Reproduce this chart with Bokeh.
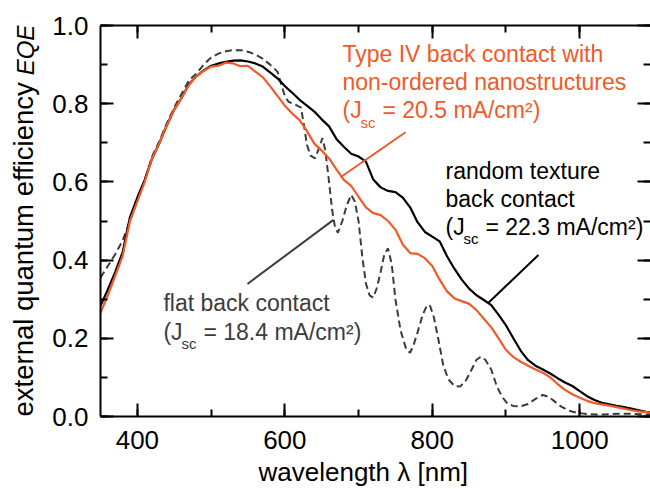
from bokeh.plotting import figure
from bokeh.layouts import row
from bokeh.models import (Range1d, LinearAxis, SingleIntervalTicker, Label, Title,
                          CustomJSTickFormatter, NumeralTickFormatter)
from bokeh.embed import file_html
from bokeh.resources import INLINE

# ---------------- data ----------------
wl_random = [350, 360, 370, 380, 390, 400, 410, 420, 430, 440, 450, 460, 470, 480, 490,
             500, 510, 520, 530, 540, 550, 560, 570, 580, 590, 600, 610, 620, 630, 640,
             650, 660, 670, 680, 690, 700, 710, 720, 730, 740, 750, 760, 770, 780, 790,
             800, 810, 820, 830, 840, 850, 860, 870, 880, 890, 900, 910, 920, 930, 940,
             950, 960, 970, 980, 990, 1000, 1010, 1020, 1030, 1040, 1050, 1060, 1070,
             1080, 1090, 1100]
eqe_random = [0.283, 0.325, 0.37, 0.42, 0.51, 0.56, 0.605, 0.66, 0.70, 0.745, 0.785, 0.815,
              0.85, 0.87, 0.885, 0.897, 0.903, 0.907, 0.91, 0.911, 0.908, 0.903, 0.895,
              0.88, 0.865, 0.845, 0.828, 0.81, 0.795, 0.78, 0.76, 0.742, 0.71, 0.69, 0.672,
              0.665, 0.652, 0.606, 0.586, 0.577, 0.574, 0.56, 0.535, 0.497, 0.472, 0.46,
              0.448, 0.41, 0.378, 0.35, 0.327, 0.31, 0.298, 0.285, 0.26, 0.233, 0.2, 0.168,
              0.144, 0.13, 0.12, 0.11, 0.098, 0.087, 0.078, 0.065, 0.052, 0.042, 0.035,
              0.031, 0.027, 0.024, 0.02, 0.016, 0.012, 0.009]

wl_type4 = wl_random
eqe_type4 = [0.265, 0.31, 0.36, 0.41, 0.50, 0.55, 0.60, 0.66, 0.70, 0.745, 0.785, 0.815,
             0.848, 0.87, 0.884, 0.895, 0.897, 0.905, 0.903, 0.896, 0.897, 0.882, 0.868,
             0.845, 0.82, 0.795, 0.775, 0.758, 0.73, 0.698, 0.68, 0.66, 0.632, 0.605, 0.59,
             0.562, 0.535, 0.52, 0.515, 0.50, 0.478, 0.44, 0.418, 0.416, 0.405, 0.385, 0.35,
             0.32, 0.302, 0.295, 0.288, 0.272, 0.25, 0.228, 0.2, 0.17, 0.152, 0.14, 0.13,
             0.12, 0.112, 0.10, 0.083, 0.068, 0.057, 0.048, 0.04, 0.034, 0.031, 0.028,
             0.024, 0.02, 0.016, 0.013, 0.011, 0.009]

wl_flat = [350, 360, 370, 380, 390, 400, 410, 420, 430, 440, 450, 460, 470, 480, 490, 500,
           510, 520, 530, 540, 550, 560, 570, 580, 590, 595, 600, 605, 615, 622, 626, 630,
           635, 641, 647, 651, 655, 660, 664, 668, 672, 678, 684, 690, 695, 700, 705, 710,
           715, 720, 725, 730, 735, 740, 745, 750, 757, 765, 770, 775, 780, 787, 793, 797,
           802, 808, 815, 822, 830, 838, 845, 852, 860, 866, 872, 880, 888, 895, 902, 910,
           920, 930, 940, 950, 958, 965, 975, 985, 995, 1010, 1030, 1050, 1070, 1090, 1100]
eqe_flat = [0.355, 0.385, 0.415, 0.45, 0.50, 0.555, 0.605, 0.665, 0.705, 0.75, 0.79, 0.825,
            0.86, 0.877, 0.90, 0.918, 0.928, 0.934, 0.937, 0.937, 0.933, 0.926, 0.915, 0.90,
            0.882, 0.85, 0.82, 0.805, 0.797, 0.79, 0.745, 0.695, 0.667, 0.66, 0.69, 0.712,
            0.68, 0.60, 0.53, 0.485, 0.47, 0.50, 0.54, 0.567, 0.55, 0.50, 0.41, 0.34, 0.31,
            0.304, 0.33, 0.37, 0.415, 0.43, 0.39, 0.30, 0.22, 0.17, 0.163, 0.185, 0.215,
            0.26, 0.285, 0.283, 0.255, 0.20, 0.13, 0.095, 0.078, 0.077, 0.09, 0.115, 0.145,
            0.153, 0.145, 0.12, 0.075, 0.05, 0.033, 0.027, 0.026, 0.032, 0.045, 0.055, 0.05,
            0.04, 0.025, 0.015, 0.01, 0.006, 0.005, 0.007, 0.007, 0.005, 0.005]

ORANGE = "#f15a29"
GRAY = "#3c3c3c"
FONT = "Liberation Sans"

LEFT_W = 48
TOTAL_W = 650
TOTAL_H = 489
FRAME_H = 392   # plot frame height (plots in a Bokeh row share frame top/bottom)

# ---------- narrow figure that holds the rotated y-axis title ----------
side = figure(width=LEFT_W, height=TOTAL_H, output_backend="svg", toolbar_location=None,
              x_range=Range1d(0, LEFT_W), y_range=Range1d(0, FRAME_H), min_border=0,
              x_axis_location=None, y_axis_location=None)
side.outline_line_color = None
side.grid.visible = False
side.title.visible = False
side.background_fill_color = "white"
side.border_fill_color = "white"
side.add_layout(Label(x=23, y=0, angle=90, angle_units="deg",
                      text="external quantum efficiency", text_font=FONT,
                      text_font_size="27.5px", text_align="left", text_baseline="alphabetic",
                      text_color="black"))
side.add_layout(Label(x=24.6, y=342, angle=90, angle_units="deg", text="EQE",
                      text_font=FONT, text_font_style="italic",
                      text_font_size="24px", text_align="left", text_baseline="alphabetic",
                      text_color="black"))

# ---------- main chart ----------
p = figure(width=TOTAL_W - LEFT_W, height=TOTAL_H, output_backend="svg",
           toolbar_location=None, x_range=Range1d(350, 1096), y_range=Range1d(0, 1.0),
           min_border_left=100 - LEFT_W, min_border_right=0, min_border_top=25,
           min_border_bottom=72)
p.outline_line_color = None
p.xgrid.visible = False
p.ygrid.visible = False
p.background_fill_color = "white"
p.border_fill_color = "white"

xt = SingleIntervalTicker(interval=200, num_minor_ticks=2)
yt = SingleIntervalTicker(interval=0.2, num_minor_ticks=2)


def style_axis(ax, ticker):
    ax.ticker = ticker
    ax.axis_line_width = 2
    ax.axis_line_color = "black"
    ax.major_tick_in = 13
    ax.major_tick_out = 0
    ax.minor_tick_in = 7
    ax.minor_tick_out = 0
    ax.major_tick_line_width = 2
    ax.minor_tick_line_width = 2
    ax.major_tick_line_color = "black"
    ax.minor_tick_line_color = "black"
    ax.major_label_text_font = FONT
    ax.major_label_text_font_size = "26px"
    ax.major_label_text_color = "black"


style_axis(p.xaxis[0], xt)
style_axis(p.yaxis[0], yt)
p.xaxis[0].major_label_standoff = 14
p.yaxis[0].major_label_standoff = 12
p.yaxis[0].formatter = NumeralTickFormatter(format="0.0")

blank = CustomJSTickFormatter(code="return ''")
top = LinearAxis()
style_axis(top, SingleIntervalTicker(interval=200, num_minor_ticks=2))
top.formatter = blank
top.major_label_standoff = 0
p.add_layout(top, "above")

right = LinearAxis()
style_axis(right, SingleIntervalTicker(interval=0.2, num_minor_ticks=2))
right.formatter = blank
right.major_label_standoff = 0
right.axis_line_color = None
p.add_layout(right, "right")

# x-axis title
p.add_layout(Title(text="wavelength λ [nm]", align="left", offset=158, standoff=6,
                   text_font=FONT, text_font_size="26px", text_font_style="normal",
                   text_color="black"), "below")

# curves
p.line(wl_flat, eqe_flat, line_color=GRAY, line_width=2, line_dash="7 4")
p.line(wl_random, eqe_random, line_color="black", line_width=2.2)
p.line(wl_type4, eqe_type4, line_color=ORANGE, line_width=2.2)

# pointer lines
p.segment(x0=[675.5], y0=[0.612], x1=[763.7], y1=[0.727], line_color=ORANGE, line_width=2)
p.segment(x0=[876.2], y0=[0.291], x1=[944.0], y1=[0.413], line_color="black", line_width=2)
p.segment(x0=[549.4], y0=[0.339], x1=[666.0], y1=[0.503], line_color=GRAY, line_width=2)


def text(x, y, s, color, size="23px", xo=0, yo=0):
    p.add_layout(Label(x=x, y=y, text=s, text_color=color, text_font=FONT,
                       text_font_size=size, text_align="left", text_baseline="alphabetic",
                       x_offset=xo, y_offset=yo))


def block(x, ys, lines, jsc, color):
    for yy, s in zip(ys, lines):
        text(x, yy, s, color, yo=9)
    text(x, ys[-1], "(J", color, yo=9)
    text(x, ys[-1], "sc", color, size="15px", xo=18, yo=-3)
    text(x, ys[-1], "= " + jsc + " mA/cm²)", color, xo=40, yo=9)


block(678.2, [0.903, 0.832, 0.760],
      ["Type IV back contact with", "non-ordered nanostructures"], "20.5", ORANGE)
block(817.9, [0.6046, 0.533, 0.4617],
      ["random texture", "back contact"], "22.3", "black")
block(435.4, [0.268, 0.194], ["flat back contact"], "18.4", GRAY)

layout = row(side, p)
open("out.html", "w").write(file_html(layout, INLINE))
